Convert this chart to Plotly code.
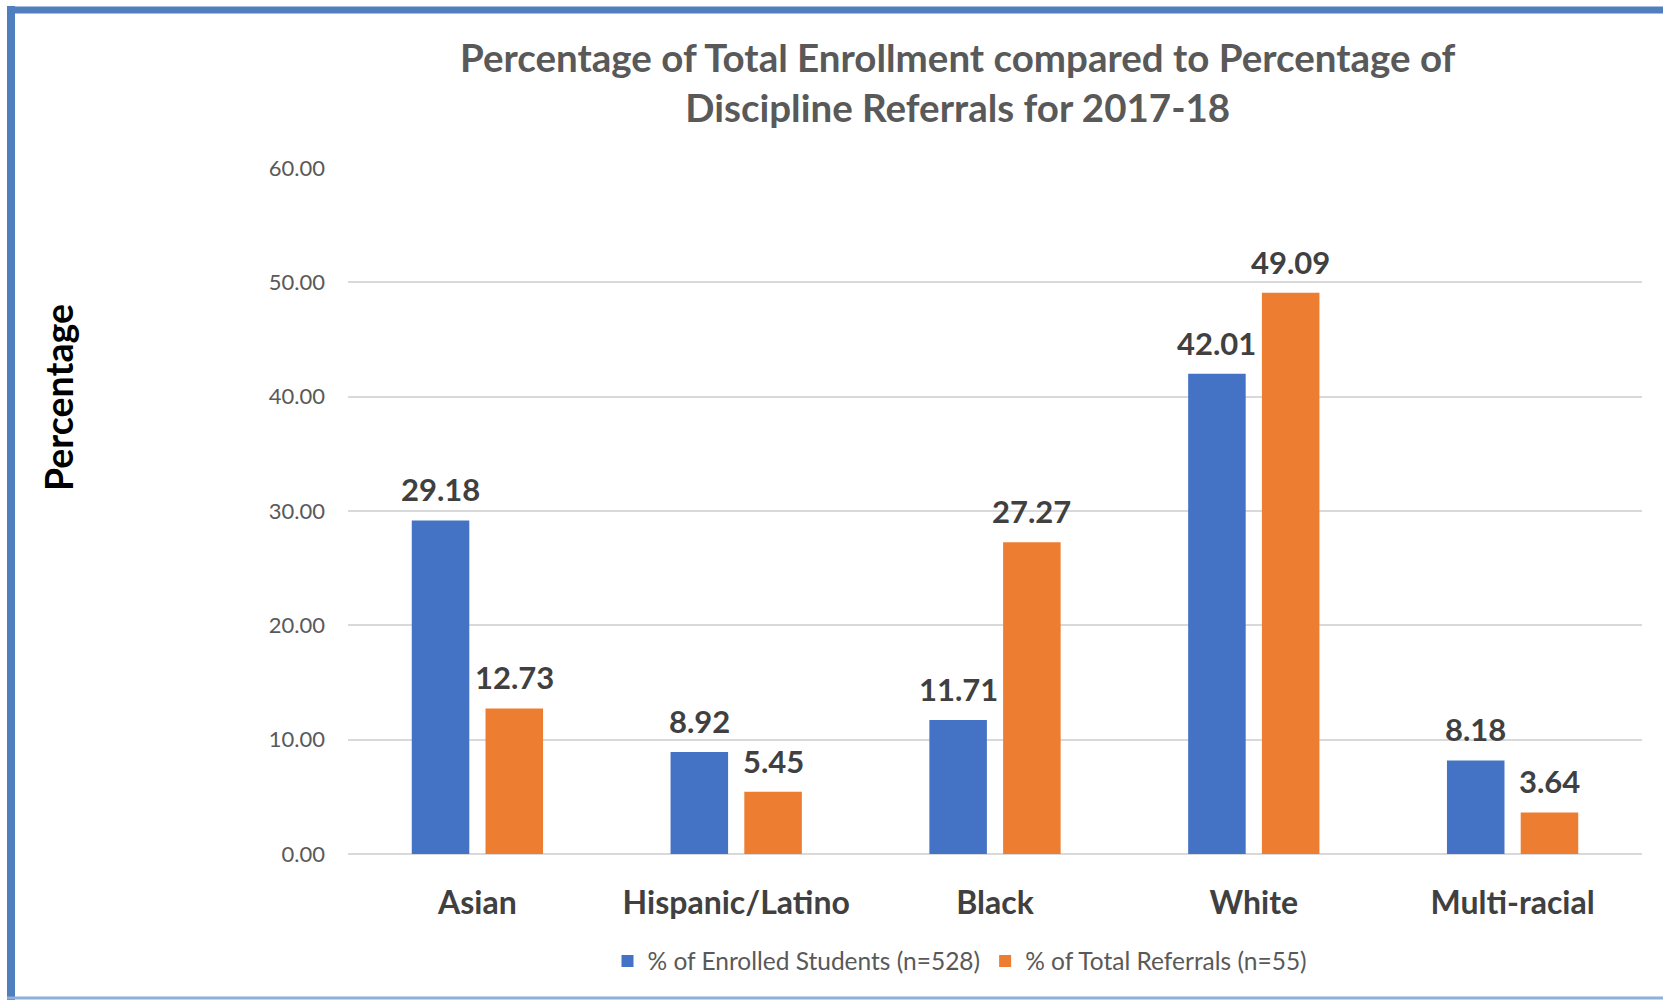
import plotly.graph_objects as go

categories = ["Asian", "Hispanic/Latino", "Black", "White", "Multi-racial"]
enrolled = [29.18, 8.92, 11.71, 42.01, 8.18]
referrals = [12.73, 5.45, 27.27, 49.09, 3.64]
series_names = ["% of Enrolled Students (n=528)", "% of Total Referrals (n=55)"]
y_ticks = [0, 10, 20, 30, 40, 50, 60]

W, H = 1663, 1000
L, R, T, B = 348, 21, 168, 146
pw = W - L - R
ph = H - T - B

def px_x(x):
    return (x - L) / pw

def px_y(y):
    return (H - B - y) / ph

FONT = "Lato"
BLUE = "#4472C4"
ORANGE = "#ED7D31"
BARGAP = 0.43
GROUPGAP = 0.22

fig = go.Figure()
for name, vals, col in [(series_names[0], enrolled, BLUE), (series_names[1], referrals, ORANGE)]:
    fig.add_trace(go.Bar(
        x=categories, y=vals, name=name, marker=dict(color=col, line=dict(width=0)),
    ))

# data labels above bars
cat_w = pw / len(categories)
slot = cat_w * (1 - BARGAP) / 2
for k, vals in enumerate([enrolled, referrals]):
    shift = (k - 0.5) * slot
    for c, v in zip(categories, vals):
        fig.add_annotation(x=c, y=v, xref="x", yref="y", text=f"{v:.2f}", showarrow=False,
                           xanchor="center", yanchor="middle", xshift=shift, yshift=31,
                           font=dict(family=FONT, size=31, color="#404040", weight="bold"))

fig.update_layout(
    width=W, height=H,
    margin=dict(l=L, r=R, t=T, b=B),
    paper_bgcolor="white", plot_bgcolor="white",
    barmode="group", bargap=BARGAP, bargroupgap=GROUPGAP,
    font=dict(family=FONT, color="#595959"),
    legend=dict(orientation="h", x=px_x(960), xanchor="center", y=px_y(961), yanchor="middle",
                font=dict(size=24.5, color="#595959"), traceorder="normal", itemwidth=30),
)
fig.update_yaxes(range=[0, 60], tickvals=y_ticks, tickformat=".2f",
                 showgrid=True, gridcolor="#D9D9D9", gridwidth=1.5,
                 zeroline=True, zerolinecolor="#D9D9D9", zerolinewidth=1.5,
                 showline=False, tickfont=dict(size=22, color="#595959"),
                 ticklabelstandoff=22)
fig.update_xaxes(showline=False, tickfont=dict(size=32, color="#404040", weight="bold"),
                 ticklabelstandoff=27)

fig.add_annotation(text="Percentage of Total Enrollment compared to Percentage of<br>Discipline Referrals for 2017-18",
                   xref="paper", yref="paper", x=px_x(958), y=px_y(82), xanchor="center", yanchor="middle",
                   showarrow=False, font=dict(family=FONT, size=38.5, color="#595959", weight="bold"))
fig.add_annotation(text="Percentage", xref="paper", yref="paper", x=px_x(58), y=px_y(398),
                   xanchor="center", yanchor="middle", textangle=-90, showarrow=False,
                   font=dict(family=FONT, size=37.5, color="#000000", weight="bold"))

# frame
fig.add_shape(type="line", xref="paper", yref="paper", x0=px_x(11), x1=px_x(11), y0=px_y(6), y1=px_y(1000),
              line=dict(color="#4F7FBF", width=8))
fig.add_shape(type="line", xref="paper", yref="paper", x0=px_x(7), x1=px_x(1663), y0=px_y(10), y1=px_y(10),
              line=dict(color="#4F7FBF", width=7))
fig.add_shape(type="line", xref="paper", yref="paper", x0=px_x(7), x1=px_x(1663), y0=px_y(998), y1=px_y(998),
              line=dict(color="#8FB0D8", width=3))

fig.write_html("out.html")
